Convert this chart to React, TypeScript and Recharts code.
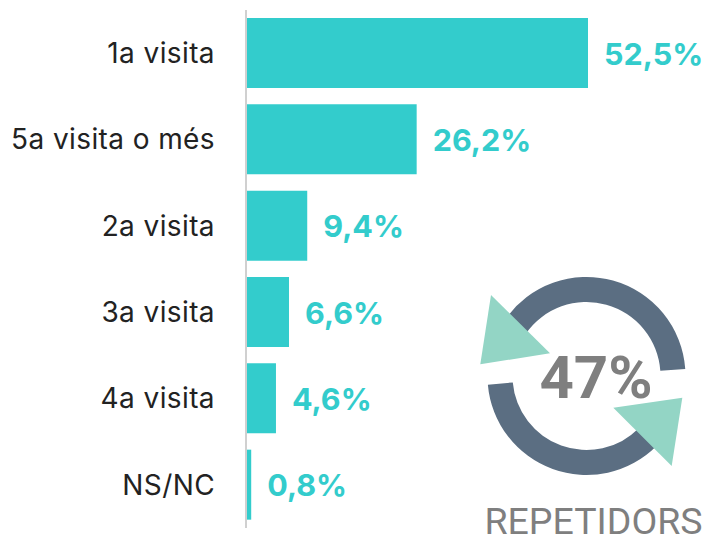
import { BarChart, Bar, XAxis, YAxis, LabelList, Sector, Polygon } from "recharts";

const VISITS = ["1a visita", "5a visita o més", "2a visita", "3a visita", "4a visita", "NS/NC"];
const SHARES = [52.5, 26.2, 9.4, 6.6, 4.6, 0.8];
const REPEAT_LABEL = "47%";
const REPEAT_CAPTION = "REPETIDORS";

const data = VISITS.map((visit, i) => ({ visit, share: SHARES[i] }));

const TEAL = "#33cccc";
const RING = "#5b6e82";
const ARROW = "#93d5c5";
const GREY = "#7f7f7f";

const formatShare = (v: number) => `${v.toFixed(1).replace(".", ",")}%`;

function RepeatIcon() {
  return (
    <svg width={715} height={537} style={{ position: "absolute", left: 0, top: 0 }}>
      <Sector cx={586.5} cy={376} innerRadius={74} outerRadius={99} startAngle={4} endAngle={145} fill={RING} />
      <Sector cx={586.5} cy={376} innerRadius={74} outerRadius={99} startAngle={185} endAngle={315} fill={RING} />
      <Polygon points={[{ x: 491, y: 295 }, { x: 480.3, y: 364.3 }, { x: 550, y: 353.3 }]} fill={ARROW} />
      <Polygon points={[{ x: 613.3, y: 407.7 }, { x: 682.3, y: 397.7 }, { x: 671.7, y: 466 }]} fill={ARROW} />
      <text x={596} y={398} textAnchor="middle" fontFamily="Roboto" fontWeight={700} fontSize={60} fill={GREY}>
        {REPEAT_LABEL}
      </text>
      <text x={593.5} y={534} textAnchor="middle" fontFamily="Roboto" fontSize={37.5} fill={GREY}>
        {REPEAT_CAPTION}
      </text>
    </svg>
  );
}

export default function App() {
  return (
    <div style={{ position: "absolute", left: 0, top: 0, width: 715, height: 537, background: "#fff" }}>
      <BarChart
        width={715}
        height={537}
        layout="vertical"
        data={data}
        barSize={70}
        margin={{ top: 10, right: 13, bottom: 9, left: 0 }}
      >
        <XAxis type="number" domain={[0, 70]} hide />
        <YAxis
          type="category"
          dataKey="visit"
          width={246}
          interval={0}
          tickLine={false}
          tickMargin={31}
          tickSize={0}
          axisLine={{ stroke: "#d0d0d0", strokeWidth: 2 }}
          tick={{ fontFamily: "Inter", fontSize: 28, letterSpacing: 0.4, fill: "#222222" }}
        />
        <Bar dataKey="share" fill={TEAL} isAnimationActive={false}>
          <LabelList
            dataKey="share"
            position="right"
            offset={16}
            dy={1}
            formatter={formatShare}
            style={{ fontFamily: "Inter", fontWeight: 700, fontSize: 30.5, fill: TEAL }}
          />
        </Bar>
      </BarChart>
      <RepeatIcon />
    </div>
  );
}
